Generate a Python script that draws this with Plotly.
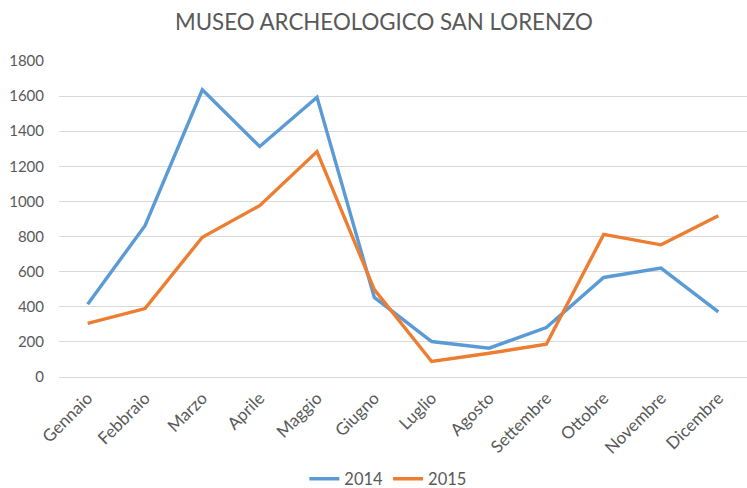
import plotly.graph_objects as go

months = ["Gennaio", "Febbraio", "Marzo", "Aprile", "Maggio", "Giugno",
          "Luglio", "Agosto", "Settembre", "Ottobre", "Novembre", "Dicembre"]
visits_2014 = [415, 862, 1636, 1313, 1594, 453, 202, 164, 282, 567, 620, 371]
visits_2015 = [306, 390, 796, 976, 1284, 498, 88, 135, 187, 812, 753, 919]
y_ticks = [0, 200, 400, 600, 800, 1000, 1200, 1400, 1600, 1800]

fig = go.Figure()
fig.add_trace(go.Scatter(x=months, y=visits_2014, mode="lines", name="2014",
                         line=dict(color="#5B9BD5", width=3.4)))
fig.add_trace(go.Scatter(x=months, y=visits_2015, mode="lines", name="2015",
                         line=dict(color="#ED7D31", width=3.4)))

fig.update_layout(
    width=747, height=488,
    margin=dict(l=59, r=0, t=61, b=111, autoexpand=False),
    paper_bgcolor="white", plot_bgcolor="white",
    font=dict(family="Lato, Open Sans, sans-serif", color="#595959"),
    title=dict(text="MUSEO ARCHEOLOGICO SAN LORENZO", x=0.514, xanchor="center",
               y=0.955, yanchor="middle",
               font=dict(size=22.3, color="#595959")),
    showlegend=True,
    legend=dict(orientation="h", x=0.478, xanchor="center", y=-0.323, yanchor="middle",
                font=dict(size=16.5, color="#595959")),
    xaxis=dict(type="category", tickangle=-45, tickfont=dict(size=17, color="#595959"),
               showgrid=False, showline=False, ticks="", range=[-0.5, 11.5],
               ticklabelstandoff=7, automargin=False),
    yaxis=dict(range=[0, 1800], tickvals=y_ticks, tickfont=dict(size=15, color="#595959"),
               showgrid=True, gridcolor="#D9D9D9", gridwidth=1, zeroline=True,
               zerolinecolor="#D9D9D9", zerolinewidth=1, ticks="", ticklabelstandoff=14,
               automargin=False),
)

fig.write_html("out.html", config={"displayModeBar": False},
               post_script="document.body.style.margin='0';")
